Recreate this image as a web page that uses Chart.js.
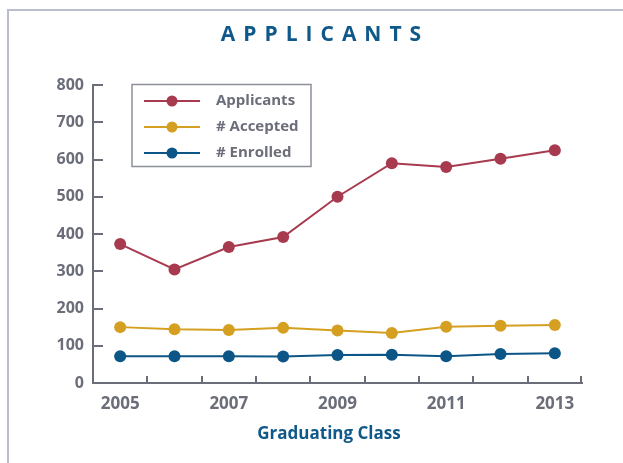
<!DOCTYPE html>
<html>
<head>
<meta charset="utf-8">
<script src="https://cdn.jsdelivr.net/npm/chart.js@4/dist/chart.umd.min.js"></script>
<style>
    body { margin: 0; background: #fff; }
    #wrap { position: relative; width: 623px; height: 463px; overflow: hidden; }
    #frame { position: absolute; left: 7px; top: 9px; width: 700px; height: 500px;
             border-left: 2px solid #b9bdcc; border-top: 2px solid #b9bdcc; }
    canvas { position: absolute; left: 0; top: 0; }
</style>
</head>
<body>
<div id="wrap">
    <div id="frame"></div>
    <canvas id="chart" width="623" height="463"></canvas>
</div>
<script>
const years = ['2005', '2006', '2007', '2008', '2009', '2010', '2011', '2012', '2013'];
const applicants = [373, 305, 365, 392, 500, 590, 580, 602, 625];
const accepted = [150, 144, 142, 148, 141, 134, 151, 154, 156];
const enrolled = [72, 72, 72, 71, 75, 76, 72, 78, 80];
const yTicks = [0, 100, 200, 300, 400, 500, 600, 700, 800];

const gray = '#6b6d79';
const blue = '#0f588a';
const font = "'Open Sans', sans-serif";

// Title, axis title, inner ticks and the boxed legend
const decorations = {
    id: 'decorations',
    afterDraw(chart) {
        const ctx = chart.ctx;
        const x = chart.scales.x;
        const y = chart.scales.y;
        const area = chart.chartArea;
        ctx.save();

        // inner tick marks
        ctx.strokeStyle = gray;
        ctx.lineWidth = 2;
        ctx.beginPath();
        yTicks.slice(1).forEach(v => {
            const py = Math.round(y.getPixelForValue(v));
            ctx.moveTo(area.left, py);
            ctx.lineTo(area.left + 10, py);
        });
        for (let i = 0; i < years.length; i++) {
            const px = i < years.length - 1
                ? (x.getPixelForValue(i) + x.getPixelForValue(i + 1)) / 2
                : area.right - 1;
            ctx.moveTo(Math.round(px), area.bottom);
            ctx.lineTo(Math.round(px), area.bottom - 7);
        }
        ctx.stroke();

        // chart title
        ctx.fillStyle = blue;
        ctx.font = 'bold 21px ' + font;
        ctx.letterSpacing = '8px';
        ctx.textBaseline = 'middle';
        ctx.textAlign = 'left';
        const title = 'APPLICANTS';
        const tw = ctx.measureText(title).width - 8;
        ctx.fillText(title, 321 - tw / 2, 35);
        ctx.letterSpacing = '0px';

        // axis title
        ctx.font = 'bold 17px ' + font;
        ctx.textAlign = 'center';
        ctx.fillText('Graduating Class', 329, 434);

        // legend box
        ctx.strokeStyle = '#8d909b';
        ctx.lineWidth = 1.5;
        ctx.strokeRect(132, 84.5, 179, 82);
        chart.data.datasets.forEach((ds, i) => {
            const ly = 101 + i * 26;
            ctx.strokeStyle = ds.borderColor;
            ctx.lineWidth = 2;
            ctx.beginPath();
            ctx.moveTo(144, ly);
            ctx.lineTo(200, ly);
            ctx.stroke();
            ctx.fillStyle = ds.borderColor;
            ctx.beginPath();
            ctx.arc(172, ly, 5.5, 0, Math.PI * 2);
            ctx.fill();
            ctx.fillStyle = gray;
            ctx.font = 'bold 15px ' + font;
            ctx.textAlign = 'left';
            ctx.fillText(ds.label, 216, ly);
        });
        ctx.restore();
    }
};

function makeDataset(label, data, color) {
    return {
        label: label,
        data: data,
        borderColor: color,
        backgroundColor: color,
        borderWidth: 2,
        pointRadius: 6,
        pointBorderWidth: 0,
        pointBackgroundColor: color,
        tension: 0
    };
}

new Chart(document.getElementById('chart'), {
    type: 'line',
    data: {
        labels: years,
        datasets: [
            makeDataset('Applicants', applicants, '#a83a4f'),
            makeDataset('# Accepted', accepted, '#d5a021'),
            makeDataset('# Enrolled', enrolled, '#0b5587')
        ]
    },
    options: {
        responsive: false,
        animation: false,
        devicePixelRatio: 1,
        layout: { padding: { top: 85, right: 41, bottom: 0, left: 0 } },
        plugins: {
            legend: { display: false },
            title: { display: false },
            tooltip: { enabled: false }
        },
        scales: {
            x: {
                offset: true,
                grid: { display: false, drawTicks: false },
                border: { display: true, color: gray, width: 2 },
                afterFit: scale => { scale.height = 80; },
                ticks: {
                    autoSkip: false,
                    maxRotation: 0,
                    padding: 11,
                    color: gray,
                    font: { family: font, size: 17, weight: 'bold' },
                    callback: function(value, index) {
                        return index % 2 === 0 ? years[index] : '';
                    }
                }
            },
            y: {
                min: 0,
                max: 800,
                grid: { display: false, drawTicks: false },
                border: { display: true, color: gray, width: 2 },
                afterFit: scale => { scale.width = 93; },
                ticks: {
                    stepSize: 100,
                    padding: 9,
                    color: gray,
                    font: { family: font, size: 16, weight: 'bold' }
                }
            }
        }
    },
    plugins: [decorations]
});
</script>
</body>
</html>
